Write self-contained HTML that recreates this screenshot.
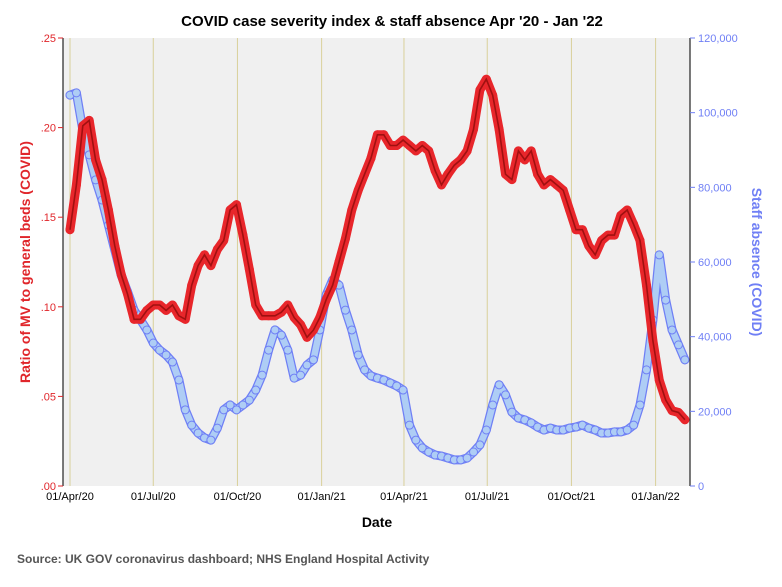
<!DOCTYPE html>
<html><head><meta charset="utf-8"><style>
body{margin:0;background:#fff;font-family:"Liberation Sans",sans-serif}
svg text{font-family:"Liberation Sans",sans-serif}
</style></head><body>
<svg id="c" width="782" height="582" viewBox="0 0 782 582" xmlns="http://www.w3.org/2000/svg">
<rect x="0" y="0" width="782" height="582" fill="#fff"/>
<text x="392" y="26" text-anchor="middle" font-size="15" font-weight="bold" fill="#000">COVID case severity index &amp; staff absence Apr '20 - Jan '22</text>
<rect x="63" y="38" width="627" height="448" fill="#f0f0f0"/>
<g id="grid"></g><g id="series"></g><g id="axes"></g>
<text transform="translate(30,262) rotate(-90)" text-anchor="middle" font-size="14" font-weight="bold" fill="#e0262b">Ratio of MV to general beds (COVID)</text>
<text transform="translate(752,262) rotate(90)" text-anchor="middle" font-size="14" font-weight="bold" fill="#6f7ff5">Staff absence (COVID)</text>
<text x="377" y="527" text-anchor="middle" font-size="14" font-weight="bold" fill="#000">Date</text>
<text x="17" y="563" font-size="12" font-weight="bold" fill="#555">Source: UK GOV coronavirus dashboard; NHS England Hospital Activity</text>
</svg>
<script>
const xLabels=["01/Apr/20","01/Jul/20","01/Oct/20","01/Jan/21","01/Apr/21","01/Jul/21","01/Oct/21","01/Jan/22"];
const xTickDays=[0,91,183,275,365,456,548,640];
const leftTicks=[0,0.05,0.10,0.15,0.20,0.25];
const leftTickLabels=[".00",".05",".10",".15",".20",".25"];
const rightTicks=[0,20000,40000,60000,80000,100000,120000];
const rightTickLabels=["0","20,000","40,000","60,000","80,000","100,000","120,000"];
const ratioValues=[0.143,0.168,0.201,0.204,0.182,0.171,0.154,0.134,0.118,0.107,0.093,0.093,0.098,0.101,0.101,0.098,0.101,0.095,0.093,0.112,0.123,0.129,0.123,0.132,0.137,0.154,0.157,0.140,0.121,0.101,0.095,0.095,0.095,0.097,0.101,0.094,0.090,0.083,0.087,0.094,0.104,0.112,0.125,0.138,0.154,0.165,0.174,0.183,0.196,0.196,0.190,0.190,0.193,0.190,0.187,0.190,0.187,0.176,0.168,0.174,0.179,0.182,0.187,0.199,0.221,0.227,0.218,0.199,0.174,0.171,0.187,0.182,0.187,0.174,0.168,0.171,0.168,0.165,0.154,0.143,0.143,0.134,0.129,0.137,0.140,0.140,0.151,0.154,0.146,0.137,0.112,0.081,0.059,0.048,0.042,0.041,0.037];
const absenceValues=[104700,105300,95400,88700,82000,76600,69900,63200,56500,52000,47100,44500,41800,38300,36400,35100,33200,28400,20400,16300,14200,12900,12300,15500,20400,21700,20400,21700,23000,25700,29700,36400,41800,40400,36400,28900,29700,32400,33800,41800,51200,55200,53800,47100,41800,35100,31100,29500,28900,28400,27600,26800,25700,16300,12300,10200,9100,8300,8000,7500,7000,7000,7500,9100,11000,15000,21700,27100,24400,19800,18200,17700,16900,15800,15000,15500,15000,15000,15500,15800,16300,15500,15000,14200,14200,14500,14500,15000,16300,21700,31100,44500,61900,49800,41800,37800,33800];
const dayStep=7;
const NS="http://www.w3.org/2000/svg";
const X0=63,X1=690,Y0=486,Y1=38;
const xDay=d=>70+d*0.915;
const yL=v=>Y0-(v/0.25)*(Y0-Y1);
const yR=v=>Y0-(v/120000)*(Y0-Y1);
function mk(t,a,p){const e=document.createElementNS(NS,t);for(const k in a)e.setAttribute(k,a[k]);p.appendChild(e);return e;}
const grid=document.getElementById('grid'),ser=document.getElementById('series'),ax=document.getElementById('axes');
xTickDays.forEach((d,i)=>{
  const g=mk('line',{x1:xDay(d),x2:xDay(d),y1:Y1,y2:Y0,stroke:'#d9d09a','stroke-width':1},grid);
  
  
  const t=mk('text',{x:xDay(d),y:500,'text-anchor':'middle','font-size':11,fill:'#000'},ax);
  t.textContent=xLabels[i];
  
  
});
// blue series
let bp=absenceValues.map((v,i)=>xDay(i*dayStep).toFixed(1)+','+yR(v).toFixed(1)).join(' ');
const bo=mk('polyline',{points:bp,fill:'none',stroke:'#6f7ff5','stroke-width':9,'stroke-linejoin':'round','stroke-linecap':'round'},ser);


const bi=mk('polyline',{points:bp,fill:'none',stroke:'#aecdf5','stroke-width':6.5,'stroke-linejoin':'round','stroke-linecap':'round'},ser);


absenceValues.forEach((v,i)=>{
  const c=mk('circle',{cx:xDay(i*dayStep),cy:yR(v),r:4,fill:'#aecdf5',stroke:'#6f7ff5','stroke-width':1},ser);
  
  
});
// red series
let rp=ratioValues.map((v,i)=>xDay(i*dayStep).toFixed(1)+','+yL(v).toFixed(1)).join(' ');
const rb=mk('polyline',{points:rp,fill:'none',stroke:'#e8262b','stroke-width':9,'stroke-linejoin':'round','stroke-linecap':'round'},ser);


ratioValues.forEach((v,i)=>{
  const c=mk('circle',{cx:xDay(i*dayStep),cy:yL(v),r:4.5,fill:'#e8262b'},ser);
  
  
});
const rl=mk('polyline',{points:rp,fill:'none',stroke:'#a01010','stroke-width':1.6},ser);


// axes
const la=mk('line',{x1:X0,x2:X0,y1:Y1,y2:Y0,stroke:'#222','stroke-width':1.2},ax);


const ra=mk('line',{x1:X1,x2:X1,y1:Y1,y2:Y0,stroke:'#222','stroke-width':1.2},ax);


leftTicks.forEach((v,i)=>{
  mk('line',{x1:X0-5,x2:X0,y1:yL(v),y2:yL(v),stroke:'#e0262b'},ax);
  const t=mk('text',{x:X0-7,y:yL(v)+4,'text-anchor':'end','font-size':11,fill:'#e0262b'},ax);
  t.textContent=leftTickLabels[i];
  
  
});
rightTicks.forEach((v,i)=>{
  mk('line',{x1:X1,x2:X1+5,y1:yR(v),y2:yR(v),stroke:'#6f7ff5'},ax);
  const t=mk('text',{x:X1+8,y:yR(v)+4,'text-anchor':'start','font-size':11,fill:'#6f7ff5'},ax);
  t.textContent=rightTickLabels[i];
  
  
});
</script>
</body></html>
